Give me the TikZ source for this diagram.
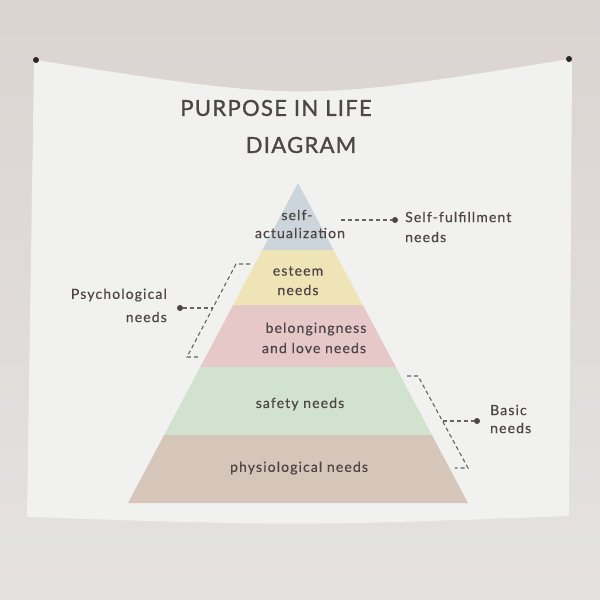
\documentclass[tikz,border=0pt]{standalone}
\usepackage{fontspec}
\setmainfont[LetterSpace=8,FakeBold=0.5]{Lato}
\newfontfamily\titlefont[LetterSpace=6,FakeBold=1.2]{Lato}
\definecolor{wallTop}{HTML}{DBD4D1}
\definecolor{wallBot}{HTML}{E4E2E1}
\definecolor{tap}{HTML}{F1F1F0}
\definecolor{ink}{HTML}{4E4646}
\definecolor{lay1}{HTML}{CBD5DB}
\definecolor{lay2}{HTML}{EFE4B6}
\definecolor{lay3}{HTML}{E6C8C8}
\definecolor{lay4}{HTML}{D1E3CE}
\definecolor{lay5}{HTML}{D6C6BA}
\tikzset{
  lbl/.style={font=\fontsize{14}{16}\selectfont, text=ink, inner sep=0pt},
  ttl/.style={font=\titlefont\fontsize{22}{26}\selectfont, text=ink, inner sep=0pt},
  dsh/.style={draw=ink!85, line width=1.1pt, dash pattern=on 4pt off 3pt},
  dotn/.style={circle, fill=ink, inner sep=0pt, minimum size=6pt},
  pin/.style={circle, fill=black!85, inner sep=0pt, minimum size=6pt}
}
\begin{document}
\begin{tikzpicture}[x=1pt,y=-1pt]
\useasboundingbox (0,0) rectangle (600,600);
% wall
\shade[top color=wallTop, bottom color=wallBot] (0,0) rectangle (600,600);
% tapestry
\fill[tap] (36,60) .. controls (303,102) .. (570,59) -- (572,64) -- (569,516)
  .. controls (300,526) .. (27,517) -- (34,63) -- cycle;
\node[pin] (pinL) at (36,60) {};
\node[pin] (pinR) at (569,59) {};
% title
\node[ttl] (t1) at (276,108) {PURPOSE IN LIFE};
\node[ttl] (t2) at (301,145) {DIAGRAM};
% pyramid
\begin{scope}
\clip (298,183) -- (468,503) -- (128,503) -- cycle;
\fill[lay1] (100,170) rectangle (500,251);
\fill[lay2] (100,250) rectangle (500,306);
\fill[lay3] (100,305) rectangle (500,368);
\fill[lay4] (100,367) rectangle (500,436);
\fill[lay5] (100,435) rectangle (500,510);
\end{scope}
% layer labels
\node[lbl] (l1a) at (297,215) {self-};
\node[lbl] (l1b) at (300,233) {actualization};
\node[lbl] (l2a) at (298,271) {esteem};
\node[lbl] (l2b) at (298,290) {needs};
\node[lbl] (l3a) at (316,329) {belongingness};
\node[lbl] (l3b) at (314,348) {and love needs};
\node[lbl] (l4) at (300,404) {safety needs};
\node[lbl] (l5) at (299,468) {physiological needs};
% self-fulfillment
\coordinate (sfA) at (341,220);
\node[dotn] (sfdot) at (395,220) {};
\draw[dsh] (sfA) -- (sfdot);
\node[lbl, anchor=west] (sf1) at (405,217) {Self-fulfillment};
\node[lbl, anchor=west] (sf2) at (405,237) {needs};
% psychological
\coordinate (pA) at (250,264);
\coordinate (pB) at (236,264);
\coordinate (pC) at (187,357);
\coordinate (pD) at (199,357);
\coordinate (pM) at (212.8,308);
\draw[dsh] (pA) -- (pB) -- (pC) -- (pD);
\node[dotn] (pdot) at (180,308) {};
\draw[dsh] (pdot) -- (pM);
\node[lbl, anchor=east] (ps1) at (167,295) {Psychological};
\node[lbl, anchor=east] (ps2) at (167,317) {needs};
% basic
\coordinate (bA) at (407,376);
\coordinate (bB) at (418,376);
\coordinate (bC) at (468,468);
\coordinate (bD) at (455,468);
\coordinate (bM) at (442.5,421);
\draw[dsh] (bA) -- (bB) -- (bC) -- (bD);
\node[dotn] (bdot) at (477,421) {};
\draw[dsh] (bM) -- (bdot);
\node[lbl, anchor=west] (bs1) at (490,410) {Basic};
\node[lbl, anchor=west] (bs2) at (490,428) {needs};
\end{tikzpicture}
\end{document}
